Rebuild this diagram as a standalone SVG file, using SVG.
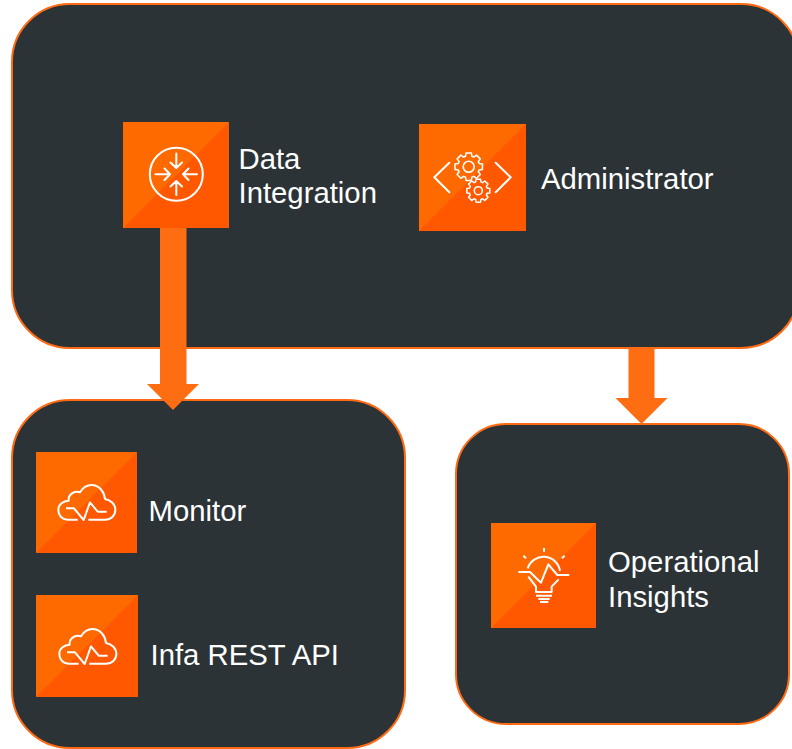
<svg xmlns="http://www.w3.org/2000/svg" width="792" height="749" viewBox="0 0 792 749">
<style>
.panel{fill:#2c3336;stroke:#ff6a13;stroke-width:2}
.hi{fill:#ff6a00}
.lo{fill:#ff5800}
.gl{fill:none;stroke:#fff;stroke-width:2;stroke-linecap:round;stroke-linejoin:round}
.gs{fill:none;stroke:#fff;stroke-width:6;stroke-linejoin:round}
.ar{fill:#ff6d12}
text{font-family:"Liberation Sans",Arial,sans-serif;font-size:29.300px;fill:#fff}
</style>
<defs>
<path id="gear" d="M7.46-2.28 9.82-1.91V1.91L7.46 2.28 6.89 3.66 8.29 5.59 5.59 8.29 3.66 6.89 2.28 7.46 1.91 9.82H-1.91L-2.28 7.46-3.66 6.89-5.59 8.29-8.29 5.59-6.89 3.66-7.46 2.28-9.82 1.91V-1.91L-7.46-2.28-6.89-3.66-8.29-5.59-5.59-8.29-3.66-6.89-2.28-7.46-1.91-9.82H1.91L2.28-7.46 3.66-6.89 5.59-8.29 8.29-5.59 6.89-3.66Z"/>
<g id="cloud">
<path class="gs" d="M158 224H128C110 224 100 210 100 195C100 178 115 168 131 167C129 150 145 136 165 142C175 125 190 120 200 120C222 120 238 140 240 162C258 165 271 178 271 195C271 212 258 224 240 224H190"/>
<path class="gs" d="M123 190H147L176 225L195 172L218 200H245"/>
</g>
</defs>
<g id="panel-top"><rect class="panel" x="12" y="4" width="787" height="344" rx="58"/></g>
<g id="panel-left"><rect class="panel" x="12" y="400" width="393" height="348" rx="58"/></g>
<g id="panel-right"><rect class="panel" x="456" y="424" width="333" height="300" rx="50"/></g>
<g id="connectors">
<path class="ar" d="M160 228H186.500V384H199L173 410L147 384H160Z"/>
<path class="ar" d="M628.500 349H654.500V398H667.500L641.500 424L615.500 398H628.500Z"/>
</g>
<g id="data-integration">
<rect class="lo" x="123" y="122" width="106" height="106"/>
<path class="hi" d="M123 122H229L123 228Z"/>
<g class="gl">
<circle cx="176.300" cy="174.300" r="26.500"/>
<path d="M176.300 153.500V168M170.500 162.500L176.300 168L182 162.500M176.300 195V181M170.500 186.500L176.300 181L182 186.500M155.500 174.300H170M164.500 168.500L170 174.300L164.500 180M197 174.300H183M188.500 168.500L183 174.300L188.500 180"/>
</g>
<text x="238.500" y="169">Data</text>
<text x="238.500" y="203">Integration</text>
</g>
<g id="administrator">
<rect class="lo" x="419" y="124" width="107" height="107"/>
<path class="hi" d="M419 124H526L419 231Z"/>
<g class="gl">
<path d="M449.300 162.700L434.300 177.300L449.300 192.300M495.700 162.700L510.700 177.300L495.700 192.300"/>
<use href="#gear" transform="translate(468.700 166.700) scale(1.400)" stroke-width="1.100"/>
<circle cx="468.700" cy="166.700" r="5.500" stroke-width="1.600"/>
<use href="#gear" transform="translate(478.300 190.700) scale(1.170)" stroke-width="1.300"/>
<circle cx="478.300" cy="190.700" r="4" stroke-width="1.600"/>
</g>
<text x="541" y="189">Administrator</text>
</g>
<g id="monitor">
<rect class="lo" x="36" y="452" width="101" height="101"/>
<path class="hi" d="M36 452H137L36 553Z"/>
<use href="#cloud" transform="translate(25 445) scale(.3333)"/>
<text x="148.500" y="521">Monitor</text>
</g>
<g id="infa-rest-api">
<rect class="lo" x="36" y="595" width="102" height="102"/>
<path class="hi" d="M36 595H138L36 697Z"/>
<use href="#cloud" transform="translate(26 589) scale(.3333)"/>
<text x="150.500" y="665">Infa REST API</text>
</g>
<g id="operational-insights">
<rect class="lo" x="491" y="523" width="105" height="105"/>
<path class="hi" d="M491 523H596L491 628Z"/>
<g transform="translate(480 515) scale(.3333)">
<path class="gs" d="M192 99V110M130 122L138 130M254 122L246 130M115 171H150L183 203L205 148L232 180H268M143 160A50 50 0 0 1 240 168M145 185L168 215V231H215V215L236 193M168 242H216M175 252H209M180 261H205"/>
</g>
<text x="608" y="572">Operational</text>
<text x="608" y="607">Insights</text>
</g>
</svg>
